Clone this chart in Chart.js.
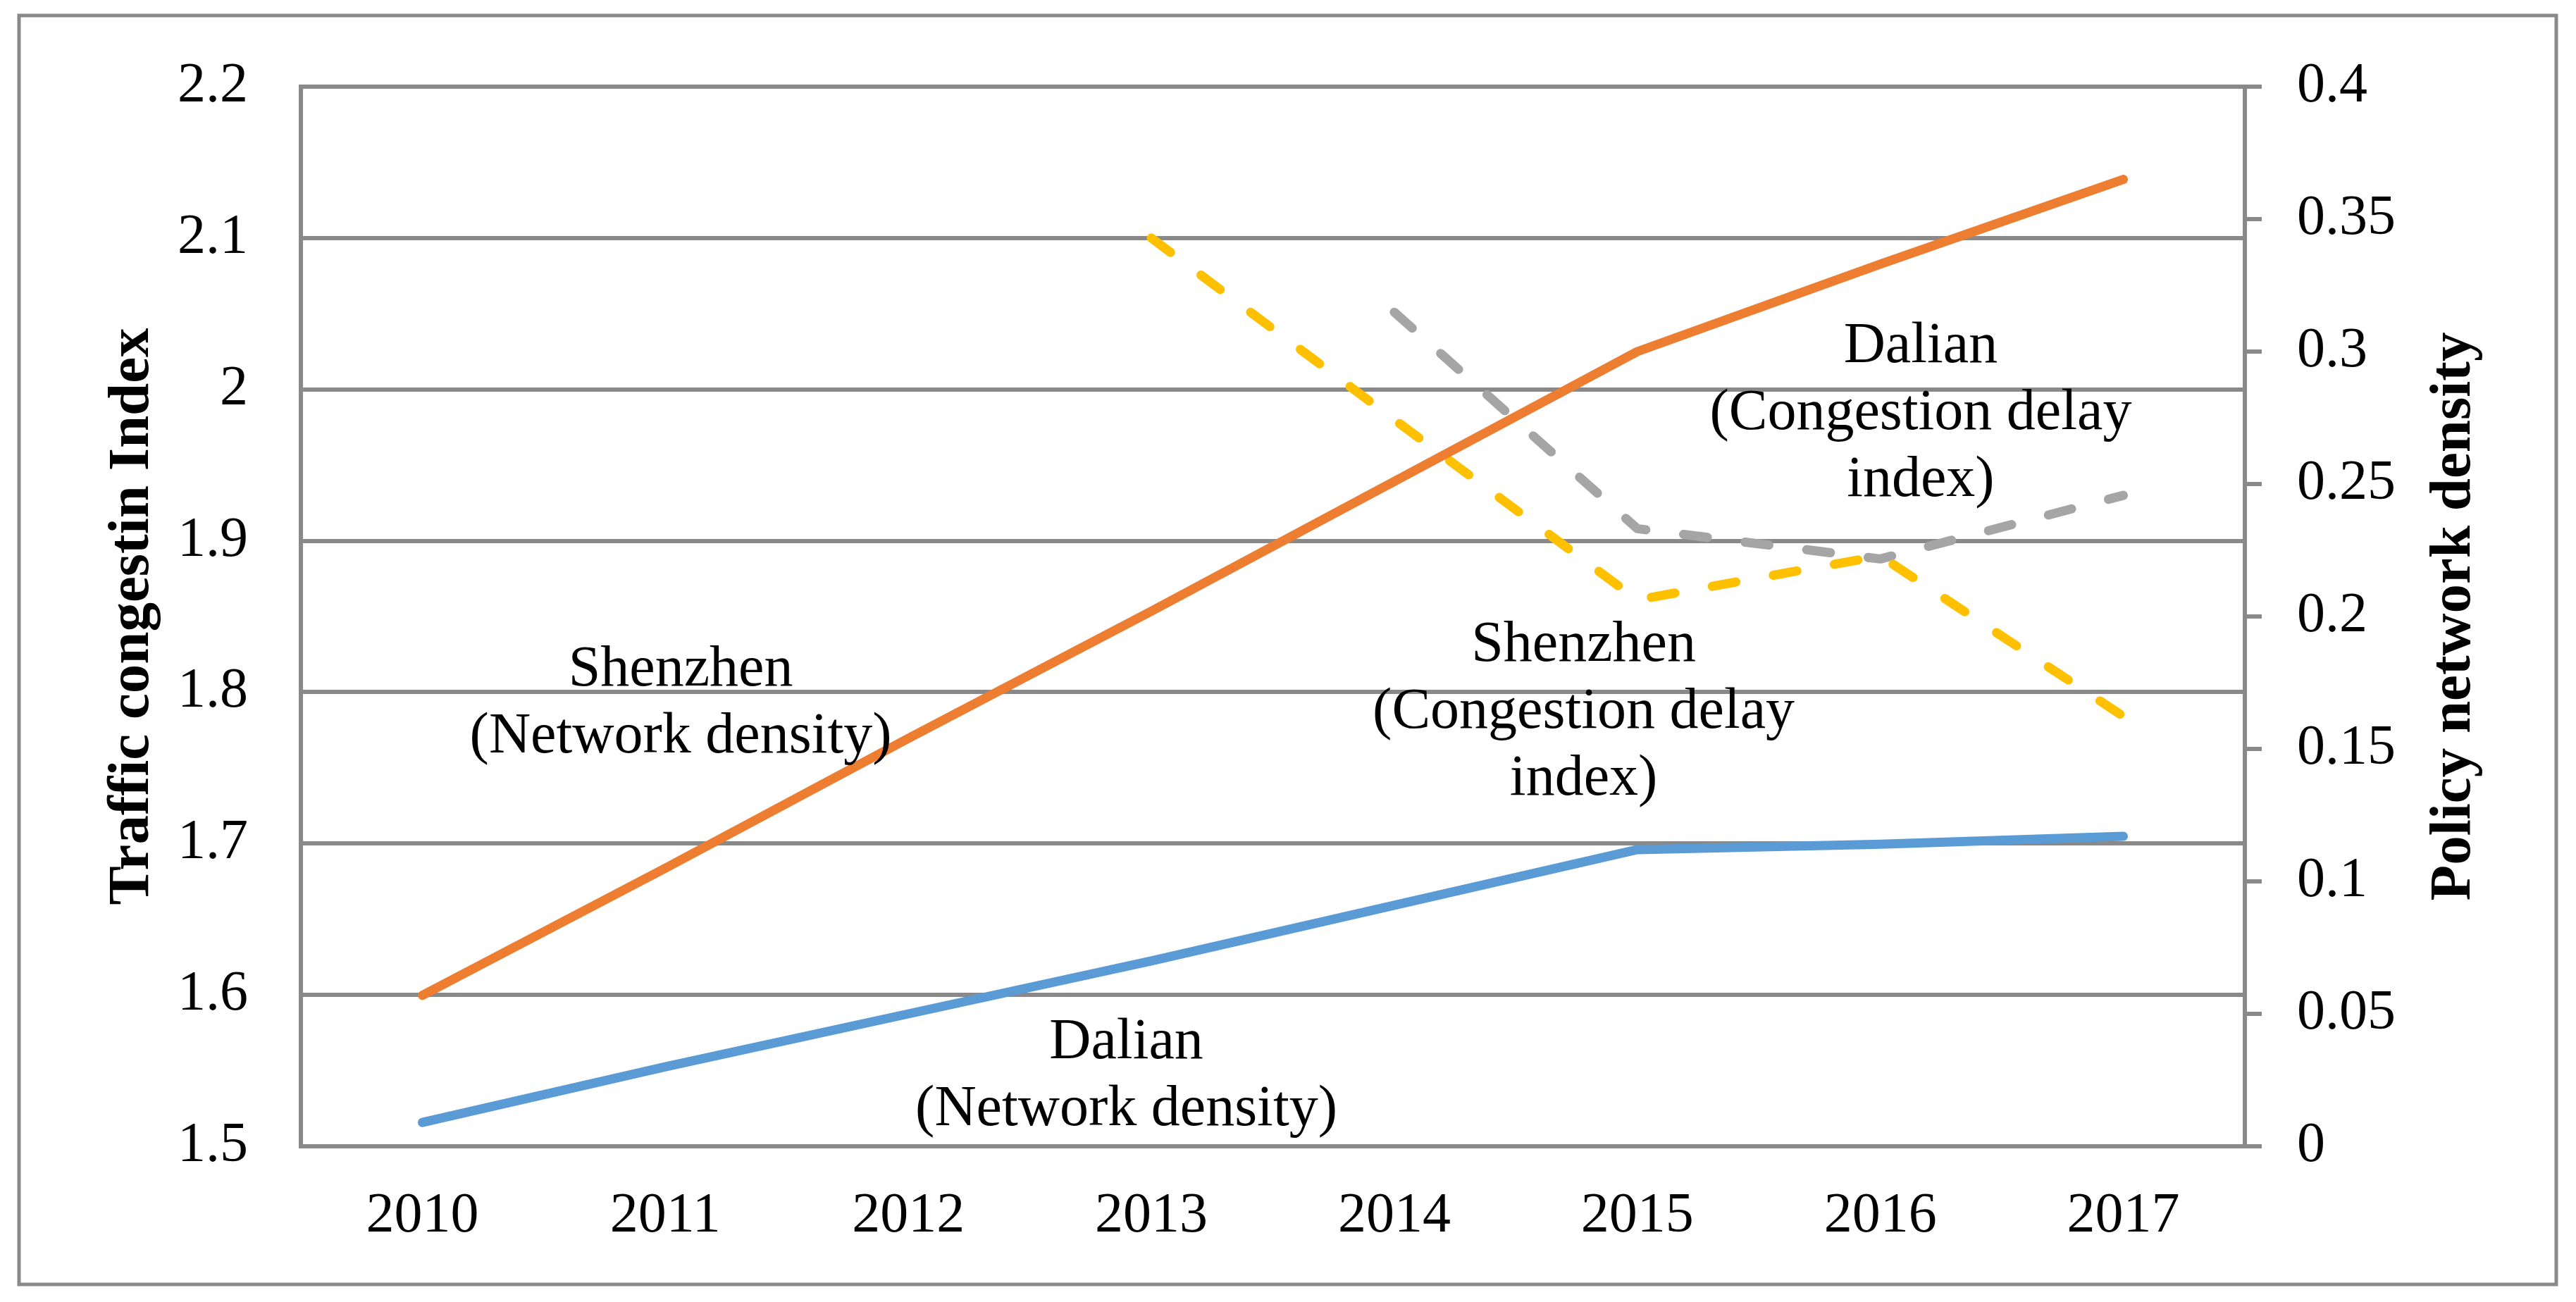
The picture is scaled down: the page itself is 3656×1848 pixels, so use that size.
<!DOCTYPE html>
<html>
<head>
<meta charset="utf-8">
<title>Traffic congestion and policy network density</title>
<script src="https://cdn.jsdelivr.net/npm/chart.js@4.4.0/dist/chart.umd.min.js"></script>
<style>
  html, body { margin: 0; padding: 0; background: #fff; }
  #wrap { width: 3656px; height: 1848px; }
</style>
</head>
<body>
<div id="wrap"><canvas id="chart" width="3656" height="1848"></canvas></div>
<script>
const years = ["2010", "2011", "2012", "2013", "2014", "2015", "2016", "2017"];

// right axis (policy network density)
const shenzhenDensity = [0.057, 0.105, 0.154, 0.202, 0.251, 0.300, 0.333, 0.365];
const dalianDensity = [0.009, 0.030, 0.050, 0.070, 0.091, 0.112, 0.114, 0.117];

// left axis (traffic congestion / delay index)
const shenzhenDelay = [null, null, null, 2.10, 1.98, 1.861, 1.89, 1.784];
const dalianDelay = [null, null, null, null, 2.051, 1.908, 1.888, 1.930];

const leftTicks = { min: 1.5, max: 2.2, step: 0.1 };
const rightTicks = { min: 0, max: 0.4, step: 0.05 };

const leftTitle = "Traffic congestin Index";
const rightTitle = "Policy network density";

// in-chart labels, anchored in data space (category index, left-axis value of first line)
const notes = [
    { lines: ["Shenzhen", "(Network density)"], x: 1.063, y: 1.8045 },
    { lines: ["Dalian", "(Network density)"], x: 2.897, y: 1.558 },
    { lines: ["Shenzhen", "(Congestion delay", "index)"], x: 4.779, y: 1.8207 },
    { lines: ["Dalian", "(Congestion delay", "index)"], x: 6.166, y: 2.018 },
];

const SERIF = '"Liberation Serif", "Times New Roman", serif';
const GRID = "#898989";

const frame = {
    id: "frame",
    beforeDraw(chart) {
        const ctx = chart.ctx;
        ctx.save();
        ctx.fillStyle = "#fff";
        ctx.fillRect(0, 0, chart.width, chart.height);
        ctx.strokeStyle = GRID;
        ctx.lineWidth = 5;
        ctx.strokeRect(27, 22, 3601, 1801);
        ctx.restore();
    },
    afterDraw(chart) {
        const ctx = chart.ctx;
        const mid = (chart.chartArea.top + chart.chartArea.bottom) / 2;
        ctx.save();
        ctx.fillStyle = "#000";
        ctx.font = `bold 83px ${SERIF}`;
        ctx.textAlign = "center";
        ctx.textBaseline = "alphabetic";
        [[leftTitle, 210], [rightTitle, 3505]].forEach(([t, x]) => {
            ctx.save();
            ctx.translate(x, mid);
            ctx.rotate(-Math.PI / 2);
            ctx.fillText(t, 0, 0);
            ctx.restore();
        });

        ctx.font = `82px ${SERIF}`;
        const xs = chart.scales.x;
        const ys = chart.scales.y;
        notes.forEach((n) => {
            const px = xs.getPixelForValue(n.x);
            const py = ys.getPixelForValue(n.y);
            n.lines.forEach((line, i) => ctx.fillText(line, px, py + i * 95));
        });
        ctx.restore();
    },
};

function lineSet(label, data, color, axis, dashed) {
    return {
        label,
        data,
        yAxisID: axis,
        borderColor: color,
        backgroundColor: color,
        borderWidth: 13,
        borderCapStyle: "round",
        borderJoinStyle: "round",
        borderDash: dashed ? [34, 54] : [],
        pointRadius: 0,
        tension: 0,
        fill: false,
    };
}

new Chart(document.getElementById("chart"), {
    type: "line",
    data: {
        labels: years,
        datasets: [
            lineSet("Shenzhen (Network density)", shenzhenDensity, "#ED7D31", "y1", false),
            lineSet("Dalian (Network density)", dalianDensity, "#5B9BD5", "y1", false),
            lineSet("Shenzhen (Congestion delay index)", shenzhenDelay, "#FFC000", "y", true),
            lineSet("Dalian (Congestion delay index)", dalianDelay, "#A5A5A5", "y", true),
        ],
    },
    options: {
        responsive: false,
        devicePixelRatio: 1,
        animation: false,
        layout: { padding: { top: 113, left: 0, right: 0, bottom: 0 } },
        plugins: { legend: { display: false }, tooltip: { enabled: false } },
        scales: {
            x: {
                offset: true,
                grid: { display: false, drawTicks: false },
                border: { display: true, color: GRID, width: 6 },
                ticks: { color: "#000", font: { family: SERIF, size: 80 }, padding: 52, maxRotation: 0 },
                afterFit(s) { s.height = 221; },
            },
            y: {
                position: "left",
                min: leftTicks.min,
                max: leftTicks.max,
                grid: { color: GRID, lineWidth: 6, drawTicks: false },
                border: { display: true, color: GRID, width: 6 },
                ticks: {
                    stepSize: leftTicks.step,
                    color: "#000",
                    font: { family: SERIF, size: 80 },
                    padding: 75,
                    callback: (v) => String(Math.round(v * 10) / 10),
                },
                afterFit(s) { s.width = 427; },
            },
            y1: {
                position: "right",
                min: rightTicks.min,
                max: rightTicks.max,
                grid: { drawOnChartArea: false, drawTicks: true, tickLength: 24, color: GRID, lineWidth: 6 },
                border: { display: true, color: GRID, width: 6 },
                ticks: {
                    stepSize: rightTicks.step,
                    color: "#000",
                    font: { family: SERIF, size: 80 },
                    padding: 50,
                    callback: (v) => String(Math.round(v * 100) / 100),
                },
                afterFit(s) { s.width = 470; },
            },
        },
    },
    plugins: [frame],
});
</script>
</body>
</html>
